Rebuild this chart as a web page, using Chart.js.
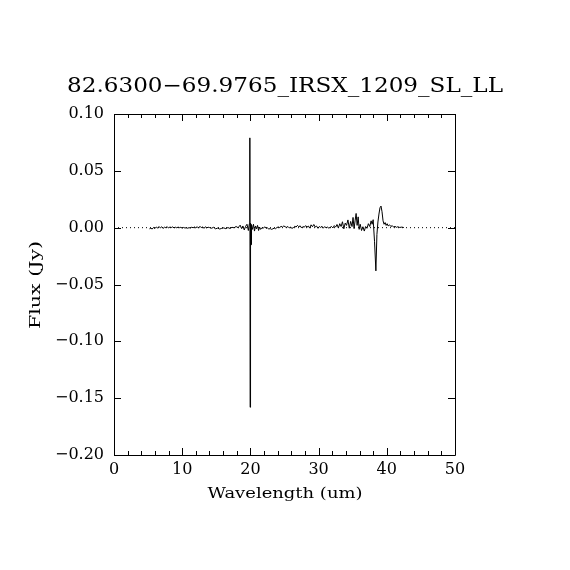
<!DOCTYPE html>
<html>
<head>
<meta charset="utf-8">
<script src="https://cdn.jsdelivr.net/npm/chart.js@4.4.0/dist/chart.umd.min.js"></script>
<style>
  html, body { margin: 0; padding: 0; background: #fff; }
  #chart { display: block; }
</style>
</head>
<body>
<canvas id="chart" width="570" height="570"></canvas>
<script>
// spectrum
const wavelength = [
    5.2, 5.4, 5.6, 5.8, 6.0, 6.2, 6.4, 6.6, 6.8, 7.0, 7.2, 7.4, 7.6, 7.8, 8.0, 8.2, 8.4, 8.6, 8.8, 9.0,
    9.2, 9.4, 9.6, 9.8, 10.0, 10.2, 10.4, 10.6, 10.8, 11.0, 11.2, 11.4, 11.6, 11.8, 12.0, 12.2, 12.4, 12.6, 12.8, 13.0,
    13.2, 13.4, 13.6, 13.8, 14.0, 14.3, 14.6, 14.9, 15.2, 15.5, 15.8, 16.1, 16.4, 16.7, 17.0, 17.3, 17.6, 17.9, 18.2, 18.5,
    18.7, 18.9, 19.1, 19.3, 19.5, 19.7, 19.85, 19.92, 19.96, 20.02, 20.1, 20.16, 20.3, 20.45, 20.6, 20.75, 20.9, 21.05, 21.2, 21.35,
    21.5, 21.7, 21.9, 22.1, 22.3, 22.5, 22.7, 22.9, 23.1, 23.3, 23.5, 23.7, 23.9, 24.1, 24.3, 24.5, 24.7, 24.9, 25.1, 25.3,
    25.5, 25.7, 25.9, 26.1, 26.3, 26.5, 26.7, 26.9, 27.1, 27.3, 27.5, 27.7, 27.9, 28.1, 28.3, 28.5, 28.7, 28.9, 29.1, 29.3,
    29.5, 29.7, 29.9, 30.1, 30.3, 30.5, 30.7, 30.9, 31.1, 31.3, 31.5, 31.7, 31.9, 32.1, 32.3, 32.5, 32.7, 32.9, 33.1, 33.3,
    33.5, 33.7, 33.9, 34.1, 34.3, 34.5, 34.7, 34.9, 35.05, 35.2, 35.35, 35.5, 35.65, 35.8, 35.95, 36.1, 36.3, 36.5, 36.7, 36.9,
    37.1, 37.3, 37.5, 37.7, 37.85, 38.0, 38.2, 38.4, 38.55, 38.7, 38.85, 39.0, 39.15, 39.3, 39.45, 39.6, 39.75, 39.9, 40.05, 40.2,
    40.4, 40.6, 40.8, 41.0, 41.2, 41.4, 41.6, 41.9, 42.2, 42.5
];
const flux = [
    -0.0010, -0.0005, -0.0012, 0.0002, -0.0008, 0.0006, -0.0004, 0.0010, -0.0002, 0.0008, -0.0006, 0.0004, 0.0000, 0.0009, -0.0003, 0.0006, 0.0001, 0.0007, -0.0002, 0.0004,
    -0.0001, 0.0005, 0.0000, 0.0003, -0.0004, 0.0002, -0.0003, -0.0001, -0.0005, 0.0000, -0.0003, 0.0004, -0.0001, 0.0006, -0.0002, 0.0009, -0.0004, 0.0012, 0.0000, 0.0007,
    -0.0006, 0.0008, -0.0002, 0.0004, 0.0001, -0.0005, 0.0003, -0.0010, -0.0004, -0.0012, -0.0006, -0.0002, -0.0009, 0.0001, -0.0007, 0.0003, -0.0001, 0.0010, 0.0000, 0.0022,
    -0.0008, 0.0015, -0.0020, 0.0012, 0.0030, -0.0025, 0.0035, 0.0790, -0.1580, 0.0040, -0.0150, 0.0028, -0.0015, 0.0030, -0.0030, 0.0015, -0.0010, 0.0020, -0.0025, 0.0005,
    -0.0015, 0.0000, -0.0005, 0.0008, -0.0006, -0.0002, -0.0012, -0.0008, -0.0015, -0.0010, -0.0004, -0.0009, 0.0002, 0.0006, 0.0001, 0.0012, 0.0005, 0.0015, 0.0008, 0.0003,
    0.0010, -0.0002, 0.0004, -0.0006, 0.0000, 0.0012, 0.0006, 0.0020, 0.0008, 0.0016, -0.0002, 0.0010, 0.0004, 0.0018, 0.0005, 0.0014, -0.0004, 0.0025, 0.0008, 0.0028,
    0.0006, 0.0014, -0.0005, 0.0010, 0.0002, 0.0012, -0.0003, 0.0008, 0.0000, 0.0005, -0.0004, 0.0003, 0.0010, -0.0002, 0.0018, 0.0005, 0.0028, -0.0003, 0.0035, 0.0010,
    0.0052, -0.0010, 0.0040, 0.0020, 0.0068, -0.0005, 0.0055, 0.0010, 0.0090, -0.0008, 0.0060, 0.0125, 0.0020, 0.0095, -0.0015, 0.0030, -0.0025, 0.0008, -0.0030, 0.0010,
    -0.0005, 0.0035, 0.0010, 0.0060, 0.0030, 0.0070, -0.0120, -0.0380, -0.0060, 0.0050, 0.0120, 0.0175, 0.0190, 0.0140, 0.0060, 0.0030, 0.0045, 0.0020, 0.0035, 0.0015,
    0.0025, 0.0010, 0.0018, 0.0005, 0.0012, 0.0003, 0.0008, 0.0002, 0.0005, 0.0001
];

// dotted zero line
const zeroX = [0, 50];
const zeroY = [0, 0];

const xMajor = [0, 10, 20, 30, 40, 50];
const xMinor = [2, 4, 6, 8, 12, 14, 16, 18, 22, 24, 26, 28, 32, 34, 36, 38, 42, 44, 46, 48];
const yMajor = [-0.20, -0.15, -0.10, -0.05, 0.00, 0.05, 0.10];

const titleText = '82.6300\u221269.9765_IRSX_1209_SL_LL';
const xTitle = 'Wavelength (um)';
const yTitle = 'Flux (Jy)';

const serif = '"DejaVu Serif", "Liberation Serif", serif';

// draws text stretched to a given width (the original uses a wide vector font)
function wideText(ctx, text, x, y, size, width) {
    ctx.save();
    ctx.font = size + 'px ' + serif;
    const w = ctx.measureText(text).width;
    ctx.translate(x, y);
    ctx.scale(width / w, 1);
    ctx.textAlign = 'center';
    ctx.textBaseline = 'alphabetic';
    ctx.fillStyle = '#000';
    ctx.fillText(text, 0, 0);
    ctx.restore();
}

const framePlugin = {
    id: 'frame',
    afterDraw(chart) {
        const ctx = chart.ctx;
        const a = chart.chartArea;
        const xs = chart.scales.x;
        const ys = chart.scales.y;
        ctx.save();
        ctx.strokeStyle = '#000';
        ctx.lineWidth = 1;
        ctx.beginPath();
        ctx.rect(Math.round(a.left) + 0.5, Math.round(a.top) + 0.5,
                 Math.round(a.right - a.left), Math.round(a.bottom - a.top));
        xMajor.forEach(v => {
            const px = Math.round(xs.getPixelForValue(v)) + 0.5;
            ctx.moveTo(px, a.bottom); ctx.lineTo(px, a.bottom - 7);
            ctx.moveTo(px, a.top); ctx.lineTo(px, a.top + 7);
        });
        xMinor.forEach(v => {
            const px = Math.round(xs.getPixelForValue(v)) + 0.5;
            ctx.moveTo(px, a.bottom); ctx.lineTo(px, a.bottom - 4);
            ctx.moveTo(px, a.top); ctx.lineTo(px, a.top + 4);
        });
        yMajor.forEach(v => {
            const py = Math.round(ys.getPixelForValue(v)) + 0.5;
            ctx.moveTo(a.left, py); ctx.lineTo(a.left + 7, py);
            ctx.moveTo(a.right, py); ctx.lineTo(a.right - 7, py);
        });
        ctx.stroke();
        ctx.restore();

        wideText(ctx, titleText, 285, 92, 20, 436);
        wideText(ctx, xTitle, 285, 498, 15, 155);
        ctx.save();
        ctx.translate(40, 285);
        ctx.rotate(-Math.PI / 2);
        wideText(ctx, yTitle, 0, 0, 15, 88);
        ctx.restore();
    }
};

new Chart(document.getElementById('chart'), {
    type: 'scatter',
    data: {
        datasets: [
            {
                data: zeroX.map((x, i) => ({ x: x, y: zeroY[i] })),
                showLine: true,
                borderColor: '#000',
                borderWidth: 1,
                borderDash: [1, 3],
                pointRadius: 0
            },
            {
                data: wavelength.map((x, i) => ({ x: x, y: flux[i] })),
                showLine: true,
                borderColor: '#000',
                borderWidth: 1,
                pointRadius: 0,
                tension: 0
            }
        ]
    },
    options: {
        responsive: false,
        devicePixelRatio: 1,
        animation: false,
        layout: { padding: { left: 0, top: 114, right: 115, bottom: 0 } },
        plugins: {
            legend: { display: false },
            tooltip: { enabled: false },
            title: { display: false }
        },
        scales: {
            x: {
                type: 'linear',
                min: 0,
                max: 50,
                afterFit: s => { s.height = 115; },
                afterBuildTicks: s => { s.ticks = xMajor.map(v => ({ value: v })); },
                grid: { drawOnChartArea: false, drawTicks: false },
                border: { display: false },
                ticks: {
                    padding: 5,
                    color: '#000',
                    font: { family: serif, size: 16 },
                    maxRotation: 0,
                    callback: v => String(v)
                }
            },
            y: {
                type: 'linear',
                min: -0.20,
                max: 0.10,
                afterFit: s => { s.width = 114; },
                afterBuildTicks: s => { s.ticks = yMajor.map(v => ({ value: v })); },
                grid: { drawOnChartArea: false, drawTicks: false },
                border: { display: false },
                ticks: {
                    padding: 10,
                    color: '#000',
                    font: { family: serif, size: 16 },
                    callback: v => (v < 0 ? '\u2212' : '') + Math.abs(v).toFixed(2)
                }
            }
        }
    },
    plugins: [framePlugin]
});
</script>
</body>
</html>
